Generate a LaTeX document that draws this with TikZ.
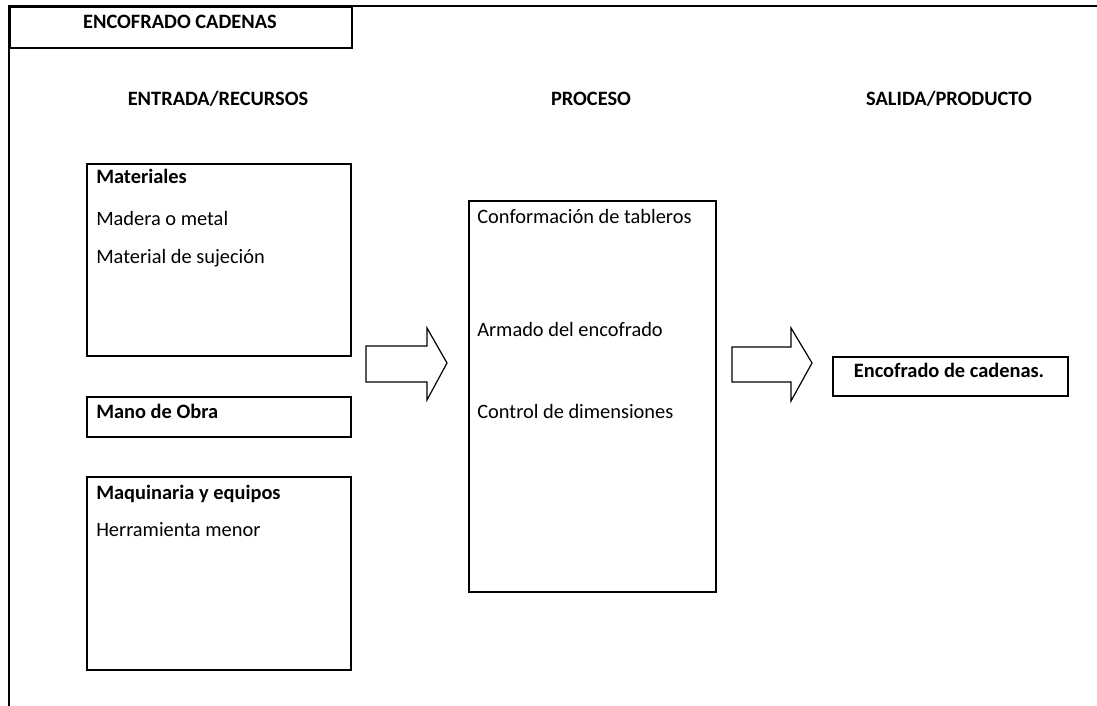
\documentclass[tikz,border=0pt]{standalone}
\usepackage{fontspec}
\setmainfont{Carlito}
\begin{document}
\begin{tikzpicture}[x=0.75pt,y=-0.75pt,
  frame/.style={line width=1.5pt},
  box/.style={draw,line width=1.5pt,anchor=north west,inner sep=0pt},
  lbl/.style={anchor=base west,inner sep=0pt,font=\fontsize{15.3pt}{18pt}\selectfont},
  bold/.style={lbl,font=\fontsize{15.3pt}{18pt}\selectfont\bfseries},
  blockarrow/.style={draw,line width=0.9pt,line join=miter}]
\useasboundingbox (0,0) rectangle (1097,706);

% outer frame: top and left edges
\draw[frame] (9,706) -- (9,6) -- (1097,6);

% title tab
\node[box,minimum width=256.5pt,minimum height=30.75pt] (title) at (9,6) {};
\node[bold,anchor=base] (titletext) at (180,29) {ENCOFRADO CADENAS};

% column headings
\node[bold,anchor=base] (hin) at (218,106) {ENTRADA/RECURSOS};
\node[bold,anchor=base] (hproc) at (591,106) {PROCESO};
\node[bold,anchor=base] (hout) at (949,106) {SALIDA/PRODUCTO};

% inputs
\node[box,minimum width=198pt,minimum height=144pt] (mat) at (86,163) {};
\node[bold] (matT) at (96,184) {Materiales};
\node[lbl] (mat1) at (96,226) {Madera o metal};
\node[lbl] (mat2) at (96,263) {Material de sujeción};

\node[box,minimum width=198pt,minimum height=30pt] (obra) at (86,396) {};
\node[bold] (obraT) at (96,418) {Mano de Obra};

\node[box,minimum width=198pt,minimum height=144.75pt] (maq) at (86,476) {};
\node[bold] (maqT) at (96,499) {Maquinaria y equipos};
\node[lbl] (maq1) at (96,536) {Herramienta menor};

% process
\node[box,minimum width=185.25pt,minimum height=293.25pt] (proc) at (468,200) {};
\node[lbl] (p1) at (477,224) {Conformación de tableros};
\node[lbl] (p2) at (477,336) {Armado del encofrado};
\node[lbl] (p3) at (477,418) {Control de dimensiones};

% output
\node[box,minimum width=176.25pt,minimum height=29.25pt] (out) at (832,356) {};
\node[bold,anchor=base] (outT) at (949,377) {Encofrado de cadenas.};

% block arrows
\draw[blockarrow] (366,346) -- (427,346) -- (427,328) -- (447,363) -- (427,400) -- (427,382) -- (366,382) -- cycle;
\draw[blockarrow] (732,347) -- (791,347) -- (791,328) -- (812,363) -- (791,401) -- (791,382) -- (732,382) -- cycle;
\end{tikzpicture}
\end{document}
